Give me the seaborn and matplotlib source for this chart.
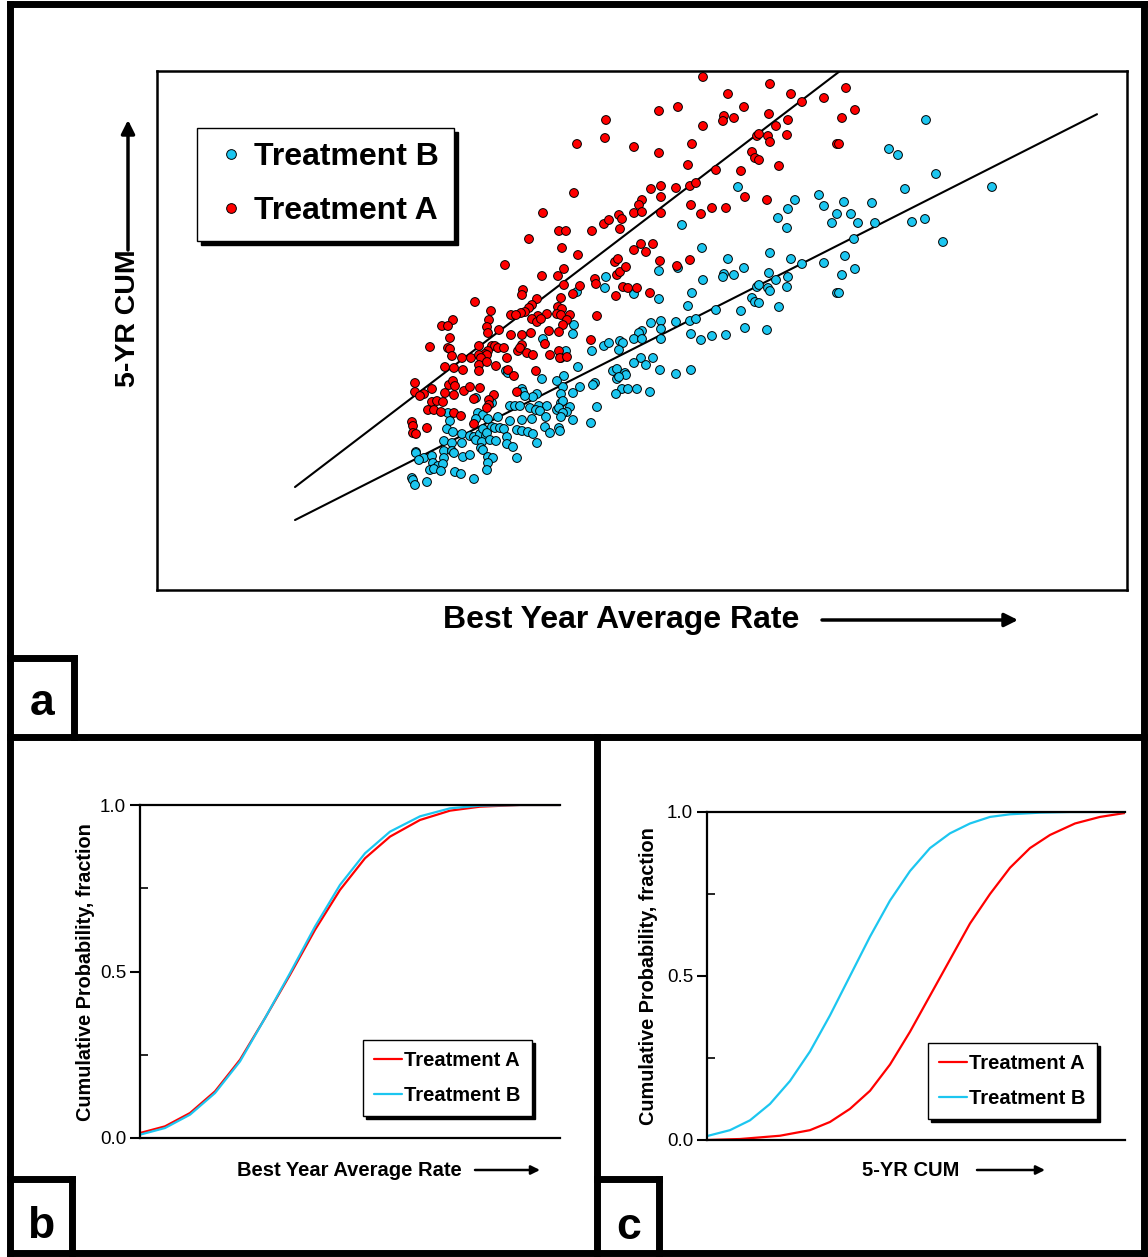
import numpy as np
import pandas as pd
import matplotlib
matplotlib.use("Agg")
import matplotlib.pyplot as plt
from matplotlib.lines import Line2D
import seaborn as sns

# ---------------- data (panel a scatter, arbitrary units) ----------------
rate_a = [577, 574, 543, 703, 770, 728, 791, 606, 659, 678, 744, 724, 723, 734, 769, 788, 703, 605,
          776, 757, 759, 768, 770, 787, 634, 659, 692, 752, 755, 759, 688, 716, 741, 779, 651, 661,
          661, 676, 690, 696, 642, 639, 745, 767, 691, 712, 726, 634, 642, 661, 619, 701, 802, 824,
          846, 855, 842, 837, 839, 604, 609, 622, 620, 634, 641, 646, 653, 615, 618, 660, 690, 677,
          617, 620, 626, 623, 628, 637, 616, 650, 559, 566, 592, 529, 562, 578, 505, 564, 542, 558,
          595, 596, 564, 580, 573, 523, 522, 537, 561, 475, 532, 529, 525, 521, 491, 511, 516, 558,
          562, 557, 561, 547, 570, 538, 597, 453, 442, 448, 489, 532, 537, 541, 487, 567, 563, 499,
          559, 531, 549, 450, 488, 511, 522, 430, 448, 450, 479, 492, 495, 498, 504, 522, 545, 591,
          559, 518, 520, 527, 533, 488, 485, 452, 462, 471, 479, 487, 481, 507, 550, 560, 567, 445,
          454, 463, 479, 487, 496, 479, 508, 514, 536, 415, 415, 424, 420, 432, 445, 449, 453, 455,
          464, 470, 480, 454, 474, 432, 437, 443, 494, 489, 489, 428, 434, 441, 454, 461, 487, 517,
          412, 413, 427, 474, 413, 416]
cum_a = [856, 807, 787, 923, 916, 906, 906, 880, 889, 893, 893, 884, 879, 882, 886, 880, 874, 862,
         874, 864, 866, 864, 858, 865, 853, 847, 856, 848, 842, 840, 835, 830, 829, 834, 811, 814,
         803, 812, 814, 817, 800, 795, 803, 800, 795, 792, 792, 787, 788, 787, 785, 786, 898, 902,
         912, 890, 882, 856, 856, 776, 780, 781, 771, 750, 756, 748, 756, 738, 741, 739, 740, 734,
         725, 728, 733, 713, 712, 712, 704, 707, 769, 769, 769, 761, 752, 745, 735, 731, 724, 724,
         721, 716, 715, 714, 706, 710, 705, 701, 702, 698, 695, 692, 688, 687, 689, 685, 685, 693,
         691, 686, 685, 686, 685, 684, 684, 680, 674, 674, 680, 681, 678, 681, 673, 680, 675, 670,
         668, 667, 669, 662, 667, 665, 665, 653, 652, 651, 654, 654, 654, 652, 652, 655, 656, 660,
         649, 649, 652, 647, 645, 649, 646, 644, 642, 642, 645, 645, 642, 642, 645, 642, 643, 633,
         632, 630, 635, 638, 634, 629, 630, 624, 629, 617, 608, 606, 604, 611, 607, 615, 619, 614,
         609, 613, 612, 605, 601, 598, 599, 598, 605, 600, 595, 590, 590, 588, 587, 584, 592, 608,
         578, 574, 572, 576, 567, 566]

rate_b = [738, 795, 788, 926, 889, 898, 936, 905, 992, 819, 824, 844, 872, 837, 851, 832, 858, 875,
          912, 925, 943, 802, 824, 854, 845, 855, 842, 837, 839, 778, 787, 682, 702, 770, 791, 728,
          678, 659, 744, 724, 723, 734, 769, 788, 606, 605, 703, 776, 757, 759, 768, 770, 787, 634,
          659, 692, 752, 755, 759, 688, 716, 741, 779, 651, 661, 661, 676, 690, 696, 642, 639, 745,
          767, 691, 712, 726, 634, 642, 661, 620, 623, 619, 701, 604, 609, 641, 653, 634, 646, 613,
          617, 625, 626, 617, 619, 660, 676, 691, 622, 628, 637, 650, 616, 577, 574, 573, 543, 566,
          592, 561, 578, 506, 508, 542, 564, 563, 557, 580, 595, 593, 573, 522, 523, 476, 537, 533,
          525, 561, 561, 563, 570, 597, 510, 515, 520, 539, 547, 530, 536, 540, 492, 567, 557, 559,
          563, 561, 448, 450, 478, 483, 498, 476, 488, 510, 522, 532, 546, 573, 591, 447, 453, 462,
          470, 474, 480, 486, 492, 495, 500, 504, 483, 487, 517, 522, 528, 533, 545, 550, 559, 560,
          507, 444, 452, 462, 476, 482, 490, 496, 507, 513, 537, 416, 416, 424, 432, 419, 444, 452,
          454, 463, 470, 481, 483, 488, 493, 517, 444, 433, 438, 443, 430, 434, 441, 488, 487, 455,
          461, 412, 413, 415, 427, 474]
cum_b = [813, 800, 791, 880, 851, 845, 826, 811, 813, 805, 794, 798, 797, 786, 786, 777, 777, 777,
         778, 781, 758, 736, 737, 761, 744, 731, 725, 707, 707, 782, 772, 775, 752, 747, 741, 741,
         732, 729, 732, 726, 723, 725, 727, 723, 723, 712, 720, 720, 713, 715, 712, 709, 713, 706,
         701, 707, 702, 698, 697, 694, 690, 689, 693, 677, 679, 671, 678, 679, 681, 669, 667, 672,
         670, 666, 664, 665, 661, 661, 661, 659, 657, 650, 660, 654, 657, 642, 642, 637, 635, 629,
         631, 627, 625, 621, 623, 630, 626, 630, 611, 611, 611, 608, 606, 708, 675, 666, 661, 649,
         649, 642, 633, 629, 627, 621, 624, 613, 619, 613, 617, 615, 607, 611, 608, 602, 606, 603,
         604, 606, 597, 599, 593, 593, 594, 594, 594, 594, 594, 592, 590, 589, 597, 588, 590, 592,
         587, 583, 587, 579, 587, 585, 583, 581, 581, 579, 580, 581, 583, 580, 577, 571, 568, 566,
         564, 563, 566, 564, 573, 572, 572, 571, 571, 567, 570, 569, 568, 566, 573, 567, 572, 569,
         563, 559, 557, 557, 560, 558, 560, 559, 556, 553, 557, 548, 547, 542, 544, 540, 549, 549,
         547, 543, 545, 552, 550, 543, 542, 542, 542, 537, 534, 536, 530, 531, 529, 537, 530, 528,
         526, 522, 520, 515, 518, 521]

# linear fits (slope, intercept) and their x span
fit_a = (0.7633, 287.8)
fit_b = (0.506, 330.7)
fit_x = np.array([295, 1097])

# ---------------- data (panel b CDF: Best Year Average Rate) ----------------
cdf_b_x = [140, 165, 190, 215, 240, 265, 290, 315, 340, 365, 390, 420, 450, 480, 520, 560]
cdf_b_a = [0.015, 0.035, 0.075, 0.14, 0.235, 0.36, 0.49, 0.625, 0.745, 0.84, 0.905, 0.955, 0.983, 0.995, 1.0, 1.0]
cdf_b_b = [0.01, 0.03, 0.07, 0.135, 0.23, 0.36, 0.495, 0.635, 0.76, 0.855, 0.92, 0.966, 0.99, 0.998, 1.0, 1.0]

# ---------------- data (panel c CDF: 5-YR CUM) ----------------
cdf_c_xb = [707, 730, 750, 770, 790, 810, 830, 850, 870, 890, 910, 930, 950, 970, 990, 1010, 1040, 1070, 1125]
cdf_c_b = [0.012, 0.03, 0.06, 0.11, 0.18, 0.27, 0.38, 0.5, 0.62, 0.73, 0.82, 0.89, 0.935, 0.965, 0.985, 0.993, 0.998, 1.0, 1.0]
cdf_c_xa = [707, 740, 780, 810, 830, 850, 870, 890, 910, 930, 950, 970, 990, 1010, 1030, 1050, 1075, 1100, 1125]
cdf_c_a = [0.0, 0.003, 0.013, 0.03, 0.055, 0.095, 0.15, 0.23, 0.33, 0.44, 0.55, 0.66, 0.75, 0.83, 0.89, 0.93, 0.965, 0.985, 0.997]

RED = "#FF0000"
BLUE = "#1CC6F0"

# ---------------- figure ----------------
sns.set_style("white")
plt.rcParams["font.family"] = ["Liberation Sans", "DejaVu Sans"]
plt.rcParams["text.color"] = "black"
plt.rcParams["axes.labelcolor"] = "black"
plt.rcParams["xtick.color"] = "black"
plt.rcParams["ytick.color"] = "black"

W, H = 1148, 1257
fig = plt.figure(figsize=(W / 100, H / 100), dpi=100)


def fx(x):
    return x / W


def fy(y):
    return 1 - y / H


def axes_px(l, t, r, b):
    return fig.add_axes([l / W, 1 - b / H, (r - l) / W, (b - t) / H])


def hline(x0, x1, y, lw=5.0):
    fig.add_artist(Line2D([fx(x0), fx(x1)], [fy(y), fy(y)], transform=fig.transFigure,
                          color="black", lw=lw, solid_capstyle="projecting"))


def vline(x, y0, y1, lw=5.0):
    fig.add_artist(Line2D([fx(x), fx(x)], [fy(y0), fy(y1)], transform=fig.transFigure,
                          color="black", lw=lw, solid_capstyle="projecting"))


def arrow(x0, y0, x1, y1, lw=2.2, ms=18):
    fig.add_artist(matplotlib.patches.FancyArrowPatch(
        (fx(x0), fy(y0)), (fx(x1), fy(y1)), transform=fig.transFigure,
        arrowstyle="-|>", mutation_scale=ms, lw=lw, color="black", shrinkA=0, shrinkB=0))


# ---- panel a ----
axa = axes_px(157, 71, 1127, 590)
df_a = pd.DataFrame({
    "rate": rate_b + rate_a,
    "cum": cum_b + cum_a,
    "treatment": ["Treatment B"] * len(rate_b) + ["Treatment A"] * len(rate_a),
})
sns.scatterplot(data=df_a, x="rate", y="cum", hue="treatment",
                hue_order=["Treatment B", "Treatment A"],
                palette={"Treatment B": BLUE, "Treatment A": RED},
                s=40, edgecolor="black", linewidth=0.7, ax=axa, legend=False, zorder=3)
for (slope, icpt) in (fit_a, fit_b):
    sns.lineplot(x=fit_x, y=slope * fit_x + icpt, color="black", lw=1.5, ax=axa, legend=False, zorder=2)
axa.set_xlim(157, 1127)
axa.set_ylim(410, 929)
axa.set_xticks([])
axa.set_yticks([])
axa.set_xlabel("")
axa.set_ylabel("")
for sp in axa.spines.values():
    sp.set_visible(True)
    sp.set_color("black")
    sp.set_linewidth(1.8)

handles_a = [Line2D([], [], marker="o", ls="", markerfacecolor=BLUE, markeredgecolor="black",
                    markeredgewidth=0.7, markersize=7),
             Line2D([], [], marker="o", ls="", markerfacecolor=RED, markeredgecolor="black",
                    markeredgewidth=0.7, markersize=7)]
leg = axa.legend(handles_a, ["Treatment B", "Treatment A"], loc="upper left",
                 bbox_to_anchor=(fx(197), fy(128)), bbox_transform=fig.transFigure,
                 prop={"weight": "bold", "size": 23}, frameon=True, fancybox=False, framealpha=1,
                 edgecolor="black", handlelength=1.2, handletextpad=0.15, borderpad=0.45,
                 labelspacing=0.75, borderaxespad=0, labelcolor="black",
                 shadow={"ox": 3, "oy": -3, "facecolor": "black", "edgecolor": "black", "alpha": 1})
leg.get_frame().set_linewidth(1.0)

fig.text(fx(443), fy(620), "Best Year Average Rate", ha="left", va="center",
         fontsize=23, weight="bold", color="black")
arrow(822, 620, 1018, 620, lw=2.5, ms=20)
fig.text(fx(128), fy(318), "5-YR CUM", ha="center", va="center", rotation=90,
         fontsize=20.5, weight="bold", color="black")
arrow(128, 250, 128, 120, lw=2.5, ms=20)


def cdf_axes(ax, xlim):
    ax.set_xlim(*xlim)
    ax.set_ylim(0, 1)
    ax.set_xticks([])
    ax.set_yticks([0, 0.5, 1.0])
    ax.set_yticklabels(["0.0", "0.5", "1.0"])
    ax.set_yticks([0.25, 0.75], minor=True)
    ax.tick_params(axis="y", which="major", left=True, direction="out", length=7, width=1.5,
                   labelsize=13.5, pad=3, colors="black")
    ax.tick_params(axis="y", which="minor", left=True, direction="in", length=6, width=1.2,
                   colors="black")
    ax.set_xlabel("")
    ax.set_ylabel("")
    for name, sp in ax.spines.items():
        sp.set_color("black")
        sp.set_linewidth(1.6)
    ax.spines["right"].set_visible(False)


def cdf_legend(ax, x, y):
    lg = ax.legend(loc="upper left", bbox_to_anchor=(fx(x), fy(y)), bbox_transform=fig.transFigure,
                   prop={"weight": "bold", "size": 14.5}, frameon=True, fancybox=False, framealpha=1,
                   edgecolor="black", handlelength=1.4, handletextpad=0.1, borderpad=0.55,
                   labelspacing=0.8, borderaxespad=0, labelcolor="black",
                   shadow={"ox": 2, "oy": -2, "facecolor": "black", "edgecolor": "black", "alpha": 1})
    lg.get_frame().set_linewidth(1.0)


# ---- panel b ----
axb = axes_px(140, 805, 560, 1138)
sns.lineplot(x=cdf_b_x, y=cdf_b_a, color=RED, lw=1.6, label="Treatment A", ax=axb)
sns.lineplot(x=cdf_b_x, y=cdf_b_b, color=BLUE, lw=1.6, label="Treatment B", ax=axb)
cdf_axes(axb, (140, 560))
cdf_legend(axb, 363, 1040)
fig.text(fx(237), fy(1170), "Best Year Average Rate", ha="left", va="center",
         fontsize=14.5, weight="bold", color="black")
arrow(475, 1170, 540, 1170, lw=1.8, ms=13)
fig.text(fx(86), fy(972), "Cumulative Probability, fraction", ha="center", va="center",
         rotation=90, fontsize=14.3, weight="bold", color="black")

# ---- panel c ----
axc = axes_px(707, 812, 1125, 1140)
sns.lineplot(x=cdf_c_xa, y=cdf_c_a, color=RED, lw=1.6, label="Treatment A", ax=axc)
sns.lineplot(x=cdf_c_xb, y=cdf_c_b, color=BLUE, lw=1.6, label="Treatment B", ax=axc)
cdf_axes(axc, (707, 1125))
cdf_legend(axc, 928, 1043)
fig.text(fx(862), fy(1170), "5-YR CUM", ha="left", va="center", fontsize=14.5, weight="bold",
         color="black")
arrow(977, 1170, 1045, 1170, lw=1.8, ms=13)
fig.text(fx(648), fy(976), "Cumulative Probability, fraction", ha="center", va="center",
         rotation=90, fontsize=14.3, weight="bold", color="black")

# ---- panel frames and tags ----
hline(9.5, 1144, 4)
hline(9.5, 1144, 1253)
vline(9.5, 4, 1253)
vline(1144, 4, 1253)
hline(9.5, 1144, 737)
vline(596.5, 737, 1253)
hline(9.5, 73.5, 658)
vline(73.5, 658, 737)
hline(9.5, 72, 1179)
vline(72, 1179, 1253)
hline(596.5, 658.5, 1179)
vline(658.5, 1179, 1253)
fig.text(fx(42.5), fy(715), "a", ha="center", va="baseline", fontsize=32, weight="bold", color="black")
fig.text(fx(41), fy(1238), "b", ha="center", va="baseline", fontsize=32, weight="bold", color="black")
fig.text(fx(629), fy(1239), "c", ha="center", va="baseline", fontsize=32, weight="bold", color="black")

fig.savefig("out.png", dpi=100)
